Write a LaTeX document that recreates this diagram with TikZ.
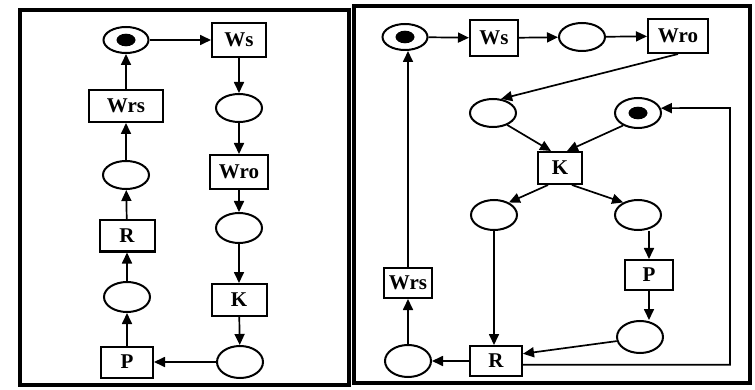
\documentclass[tikz,border=0pt]{standalone}
\usepackage{fontspec}
\setmainfont{Liberation Serif}
\usetikzlibrary{shapes.geometric,arrows.meta}
\tikzset{
  pl/.style={ellipse,draw,line width=2pt,minimum width=46pt,minimum height=28pt,inner sep=0pt},
  tokpl/.style={pl,path picture={\fill (path picture bounding box.center) ellipse (9.5pt and 6.3pt);}},
  tr/.style={rectangle,draw,line width=2pt,inner sep=0pt,font=\bfseries\fontsize{21}{21}\selectfont},
  arr/.style={-{Triangle[length=11pt,width=10pt]},line width=1.7pt},
  frame/.style={line width=3.5pt}
}
\begin{document}
\begin{tikzpicture}[x=1pt,y=-1pt]
\useasboundingbox (0,0) rectangle (755,390);
% frames
\draw[frame] (20,10) rectangle (349,385);
\draw[frame] (354,6) rectangle (750,383);

% ---------- left panel ----------
\node[tokpl,minimum width=45pt,minimum height=26pt] (L1) at (126,40) {};
\node[tr,minimum width=54pt,minimum height=34pt] (Lws) at (239,40) {Ws};
\node[pl] (Lp1) at (239,108) {};
\node[tr,minimum width=58pt,minimum height=34pt] (Lwro) at (239,172) {Wro};
\node[pl,minimum height=30pt] (Lp2) at (239,228) {};
\node[tr,minimum width=55pt,minimum height=32pt] (Lk) at (239,300) {K};
\node[pl,minimum height=32pt] (Lp3) at (240,362) {};
\node[tr,minimum width=52pt,minimum height=31pt] (Lp) at (127,362) {P};
\node[pl,minimum height=30pt] (Lp4) at (127,297) {};
\node[tr,minimum width=55pt,minimum height=31pt] (Lr) at (127,236) {R};
\node[pl] (Lp5) at (126,175) {};
\node[tr,minimum width=74pt,minimum height=32pt] (Lwrs) at (126,106) {Wrs};

\draw[arr] (L1) -- (Lws);
\draw[arr] (Lws) -- (Lp1);
\draw[arr] (Lp1) -- (Lwro);
\draw[arr] (Lwro) -- (Lp2);
\draw[arr] (Lp2) -- (Lk);
\draw[arr] (Lk) -- (Lp3);
\draw[arr] (Lp3) -- (Lp);
\draw[arr] (Lp) -- (Lp4);
\draw[arr] (Lp4) -- (Lr);
\draw[arr] (Lr) -- (Lp5);
\draw[arr] (Lp5) -- (Lwrs);
\draw[arr] (Lwrs) -- (L1);

% ---------- right panel ----------
\node[tokpl,minimum width=45pt,minimum height=26pt] (R1) at (405,37) {};
\node[tr,minimum width=48pt,minimum height=36pt] (Rws) at (494,38) {Ws};
\node[pl] (Rp1) at (582,37) {};
\node[tr,minimum width=60pt,minimum height=34pt] (Rwro) at (678,36) {Wro};
\node[pl] (Rp2) at (493,113) {};
\node[tokpl,minimum height=30pt] (Rt) at (638,113) {};
\node[tr,minimum width=44pt,minimum height=32pt] (Rk) at (560,168) {K};
\node[pl,minimum height=30pt] (Rp3) at (494,215) {};
\node[pl,minimum height=30pt] (Rp4) at (638,215) {};
\node[tr,minimum width=48pt,minimum height=30pt] (Rp) at (649,275) {P};
\node[pl,minimum height=32pt] (Rp5) at (640,337) {};
\node[tr,minimum width=52pt,minimum height=30pt] (Rr) at (496,361) {R};
\node[pl,minimum height=32pt] (Rp6) at (408,361) {};
\node[tr,minimum width=48pt,minimum height=30pt] (Rwrs) at (408,283) {Wrs};
\coordinate (rc) at (730,108);

\draw[arr] (R1) -- (Rws);
\draw[arr] (Rws) -- (Rp1);
\draw[arr] (Rp1) -- (Rwro);
\draw[arr] (Rwro.south) -- (Rp2.60);
\draw[arr] (Rp2.-40) -- ([xshift=-9pt]Rk.north);
\draw[arr] (Rt.-140) -- ([xshift=7pt]Rk.north);
\draw[arr] ([xshift=-12pt]Rk.south) -- (Rp3.40);
\draw[arr] ([xshift=12pt]Rk.south) -- (Rp4.140);
\draw[arr] (Rp3) -- (Rp3 |- Rr.north);
\draw[arr] (Rp.north |- Rp4.south) -- (Rp.north);
\draw[arr] (Rp.south) -- (Rp.south |- Rp5.north);
\draw[arr] (Rp5.190) -- (Rr.15);
\draw[arr] (Rr) -- (Rp6);
\draw[arr] (Rp6) -- (Rwrs);
\draw[arr] (Rwrs.north) -- (Rwrs.north |- R1.south);
\draw[arr] (Rr.-8) -- (Rr.-8 -| rc) -- (rc) -- (Rt.12);
\end{tikzpicture}
\end{document}
